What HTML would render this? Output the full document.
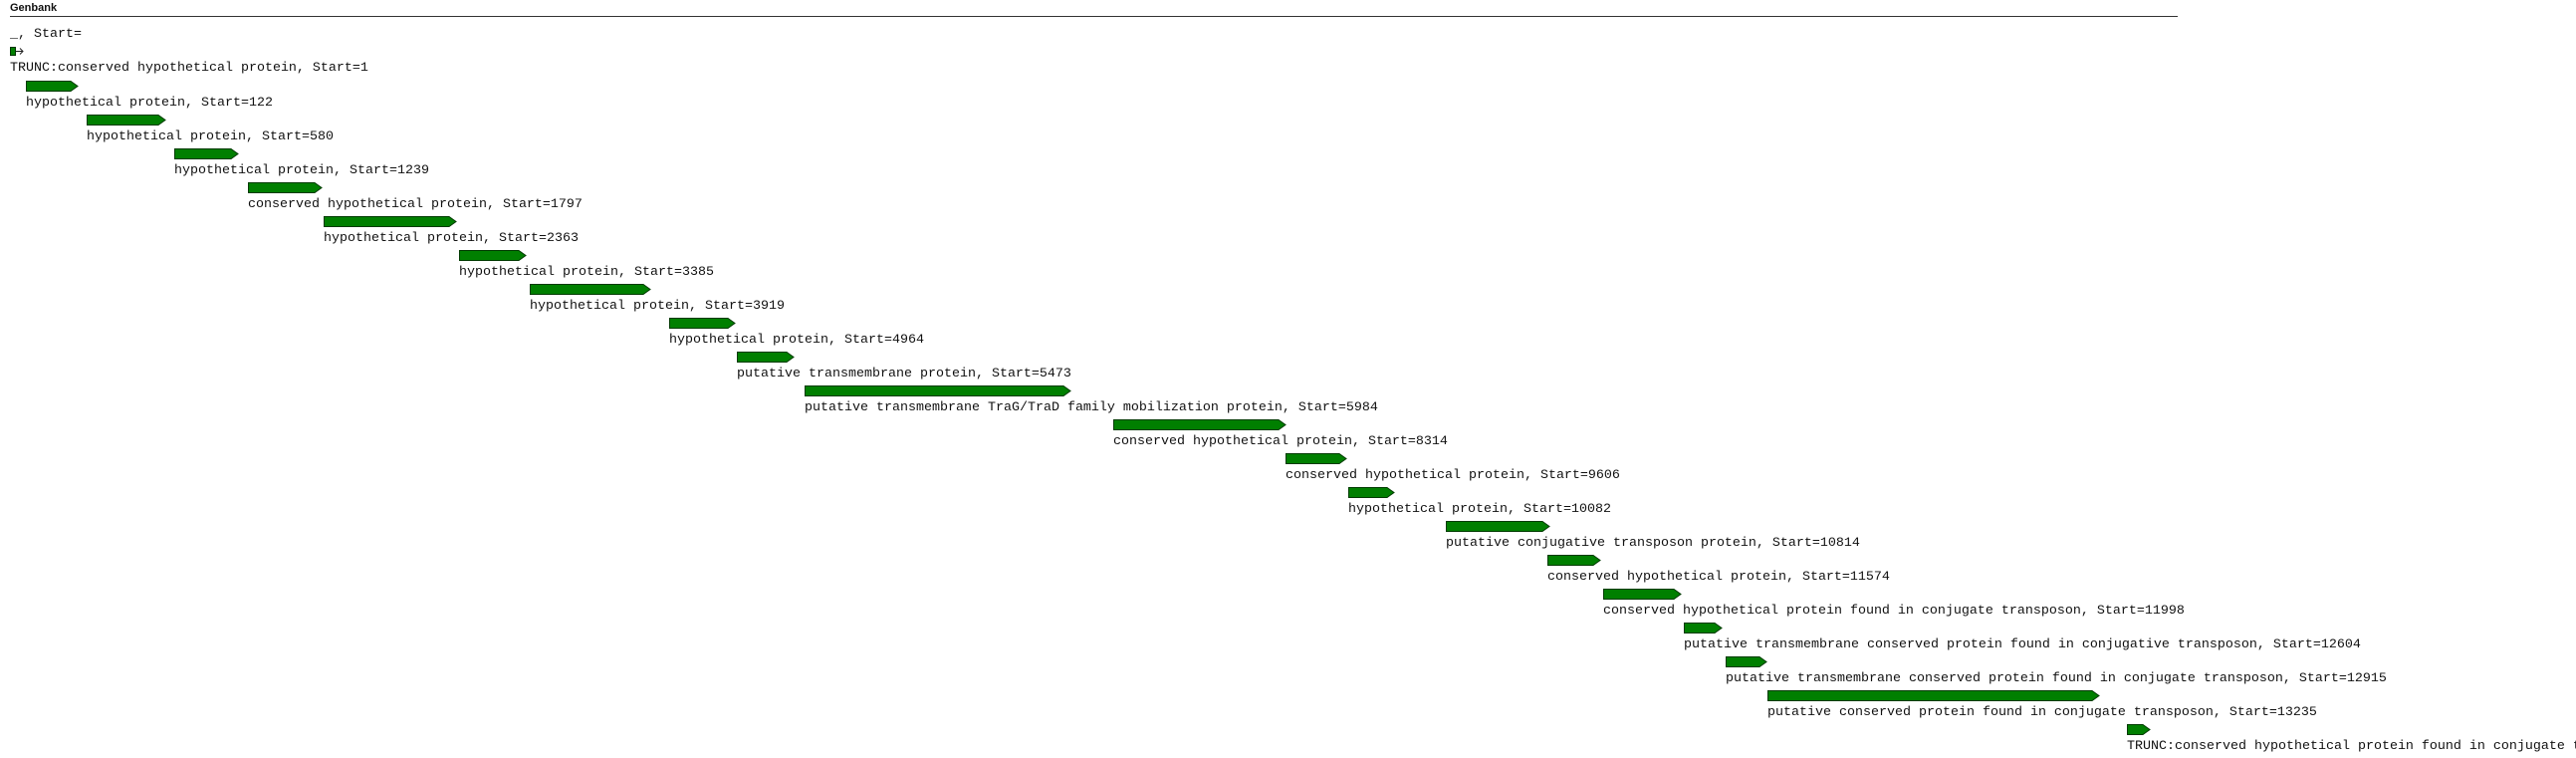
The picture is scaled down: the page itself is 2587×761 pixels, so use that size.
<!DOCTYPE html>
<html><head><meta charset="utf-8"><style>
html,body{margin:0;padding:0;background:#fff;width:2587px;height:761px;overflow:hidden}
svg{display:block}
text{font-family:"Liberation Mono",monospace;font-size:13.33px;fill:#111}
</style></head><body>
<svg width="2587" height="761" xmlns="http://www.w3.org/2000/svg">
<text x="10" y="11" style="font-family:'Liberation Sans',sans-serif;font-weight:bold;font-size:11px">Genbank</text>
<line x1="10" y1="16.5" x2="2187" y2="16.5" stroke="#333" stroke-width="1"/>
<text x="10" y="37">_, Start=</text>
<rect x="10.5" y="47.5" width="5" height="8" fill="#007f00" stroke="#003300"/>
<path d="M16 51.5 H23 M20 48.5 L23 51.5 L20 54.5" stroke="#222" fill="none"/>
<text x="10" y="71">TRUNC:conserved hypothetical protein, Start=1</text>
<g id="rows" fill="#007f00" stroke="#003a00" stroke-width="1"></g>
<g id="labels"></g>
<polygon points="26.5,81.5 71,81.5 78,86.5 71,91.5 26.5,91.5" fill="#007f00" stroke="#003a00"/>
<text x="26" y="106">hypothetical protein, Start=122</text>
<polygon points="87.5,115.5 159,115.5 166,120.5 159,125.5 87.5,125.5" fill="#007f00" stroke="#003a00"/>
<text x="87" y="140">hypothetical protein, Start=580</text>
<polygon points="175.5,149.5 232,149.5 239,154.5 232,159.5 175.5,159.5" fill="#007f00" stroke="#003a00"/>
<text x="175" y="174">hypothetical protein, Start=1239</text>
<polygon points="249.5,183.5 316,183.5 323,188.5 316,193.5 249.5,193.5" fill="#007f00" stroke="#003a00"/>
<text x="249" y="208">conserved hypothetical protein, Start=1797</text>
<polygon points="325.5,217.5 451,217.5 458,222.5 451,227.5 325.5,227.5" fill="#007f00" stroke="#003a00"/>
<text x="325" y="242">hypothetical protein, Start=2363</text>
<polygon points="461.5,251.5 521,251.5 528,256.5 521,261.5 461.5,261.5" fill="#007f00" stroke="#003a00"/>
<text x="461" y="276">hypothetical protein, Start=3385</text>
<polygon points="532.5,285.5 646,285.5 653,290.5 646,295.5 532.5,295.5" fill="#007f00" stroke="#003a00"/>
<text x="532" y="310">hypothetical protein, Start=3919</text>
<polygon points="672.5,319.5 731,319.5 738,324.5 731,329.5 672.5,329.5" fill="#007f00" stroke="#003a00"/>
<text x="672" y="344">hypothetical protein, Start=4964</text>
<polygon points="740.5,353.5 790,353.5 797,358.5 790,363.5 740.5,363.5" fill="#007f00" stroke="#003a00"/>
<text x="740" y="378">putative transmembrane protein, Start=5473</text>
<polygon points="808.5,387.5 1068,387.5 1075,392.5 1068,397.5 808.5,397.5" fill="#007f00" stroke="#003a00"/>
<text x="808" y="412">putative transmembrane TraG/TraD family mobilization protein, Start=5984</text>
<polygon points="1118.5,421.5 1284,421.5 1291,426.5 1284,431.5 1118.5,431.5" fill="#007f00" stroke="#003a00"/>
<text x="1118" y="446">conserved hypothetical protein, Start=8314</text>
<polygon points="1291.5,455.5 1345,455.5 1352,460.5 1345,465.5 1291.5,465.5" fill="#007f00" stroke="#003a00"/>
<text x="1291" y="480">conserved hypothetical protein, Start=9606</text>
<polygon points="1354.5,489.5 1393,489.5 1400,494.5 1393,499.5 1354.5,499.5" fill="#007f00" stroke="#003a00"/>
<text x="1354" y="514">hypothetical protein, Start=10082</text>
<polygon points="1452.5,523.5 1549,523.5 1556,528.5 1549,533.5 1452.5,533.5" fill="#007f00" stroke="#003a00"/>
<text x="1452" y="548">putative conjugative transposon protein, Start=10814</text>
<polygon points="1554.5,557.5 1600,557.5 1607,562.5 1600,567.5 1554.5,567.5" fill="#007f00" stroke="#003a00"/>
<text x="1554" y="582">conserved hypothetical protein, Start=11574</text>
<polygon points="1610.5,591.5 1681,591.5 1688,596.5 1681,601.5 1610.5,601.5" fill="#007f00" stroke="#003a00"/>
<text x="1610" y="616">conserved hypothetical protein found in conjugate transposon, Start=11998</text>
<polygon points="1691.5,625.5 1722,625.5 1729,630.5 1722,635.5 1691.5,635.5" fill="#007f00" stroke="#003a00"/>
<text x="1691" y="650">putative transmembrane conserved protein found in conjugative transposon, Start=12604</text>
<polygon points="1733.5,659.5 1767,659.5 1774,664.5 1767,669.5 1733.5,669.5" fill="#007f00" stroke="#003a00"/>
<text x="1733" y="684">putative transmembrane conserved protein found in conjugate transposon, Start=12915</text>
<polygon points="1775.5,693.5 2101,693.5 2108,698.5 2101,703.5 1775.5,703.5" fill="#007f00" stroke="#003a00"/>
<text x="1775" y="718">putative conserved protein found in conjugate transposon, Start=13235</text>
<polygon points="2136.5,727.5 2152,727.5 2159,732.5 2152,737.5 2136.5,737.5" fill="#007f00" stroke="#003a00"/>
<text x="2136" y="752">TRUNC:conserved hypothetical protein found in conjugate transposon, Start=14095</text>
</svg>
</body></html>
